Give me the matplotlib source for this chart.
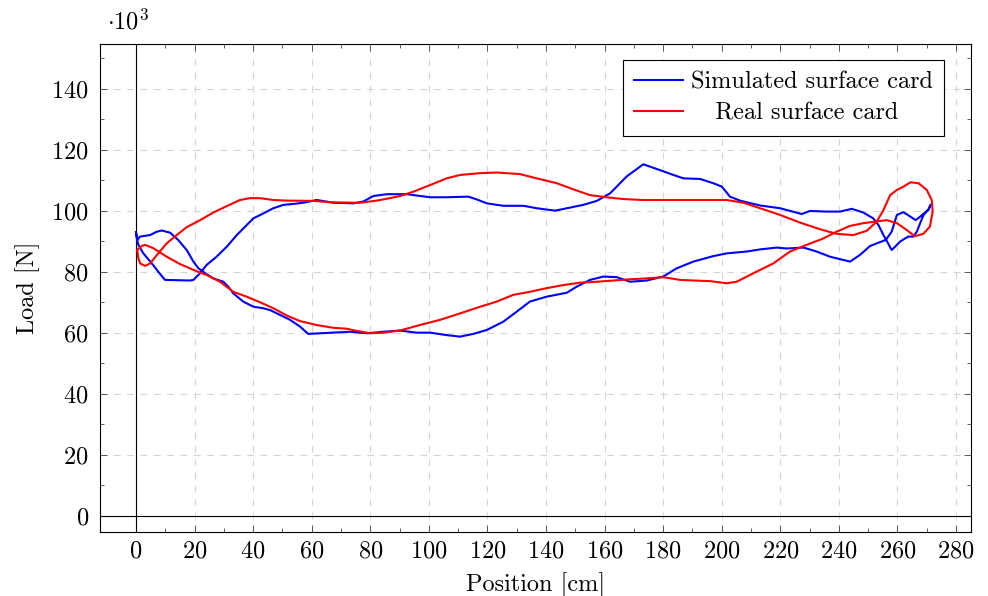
import numpy as np
import matplotlib
matplotlib.use("Agg")
import matplotlib.pyplot as plt
from matplotlib.ticker import FixedLocator

plt.rcParams['font.family'] = ['cmr10', 'DejaVu Serif']
plt.rcParams['mathtext.fontset'] = 'cm'
plt.rcParams['axes.formatter.use_mathtext'] = True

# Simulated surface card (position in cm, load in kN), traced as one closed loop
sim_x = [0.0, 0.4, 1.4, 4.8, 7.1, 8.8, 11.6, 14.4, 17.3, 19.6, 21.3, 23.6, 26.4, 29.8,
         31.5, 33.2, 36.6, 40.1, 43.5, 45.8, 49.2, 52.6, 56.0, 58.8, 62.8, 67.4, 73.1,
         78.8, 84.4, 90.1, 95.8, 100.4, 106.1, 110.6, 115.2, 119.8, 125.4, 130.0, 134.5,
         140.2, 147.1, 150.5, 155.0, 159.6, 164.1, 168.7, 174.4, 180.0, 184.6, 190.3,
         197.1, 201.7, 208.5, 213.1, 218.8, 222.2, 227.9, 232.4, 237.0, 240.4, 243.8,
         247.2, 250.6, 253.5, 256.0, 258.0, 259.8, 262.0, 264.0, 266.2, 267.7, 270.6,
         271.3, 270.6, 268.9, 267.7, 266.6, 265.4, 263.7, 262.6, 260.8, 259.2, 258.0,
         256.9, 255.2, 253.5, 251.7, 248.3, 244.4, 240.4, 235.8, 230.1, 227.3, 219.9,
         213.1, 206.2, 202.8, 200.0, 197.1, 192.6, 186.9, 183.5, 178.9, 173.2, 167.5,
         161.9, 157.3, 152.7, 148.2, 143.1, 136.8, 132.3, 125.4, 119.8, 116.3, 113.5,
         106.1, 100.4, 92.4, 85.6, 81.0, 77.6, 74.2, 67.4, 61.7, 57.1, 53.7, 50.3, 46.9,
         43.5, 40.1, 37.8, 34.4, 31.0, 27.5, 24.1, 21.9, 19.6, 18.4, 9.9, 7.5, 5.4, 2.5,
         0.8, 0.4, 0.0]
sim_y = [93.0, 90.5, 91.6, 92.1, 93.2, 93.6, 92.9, 90.5, 87.2, 83.4, 81.2, 79.6, 77.9, 76.8,
         75.2, 73.0, 70.3, 68.6, 68.1, 67.5, 65.9, 64.3, 62.1, 59.7, 59.9, 60.1, 60.4,
         59.9, 60.4, 60.8, 60.1, 60.1, 59.3, 58.8, 59.7, 61.0, 63.7, 67.0, 70.3,
         71.9, 73.2, 75.2, 77.4, 78.5, 78.3, 76.8, 77.2, 78.5, 81.2, 83.4,
         85.2, 86.1, 86.7, 87.4, 88.0, 87.7, 88.0, 86.7, 85.0, 84.2, 83.4,
         85.6, 88.5, 89.6, 90.5, 93.2, 98.7, 99.6, 98.4, 97.0, 98.1, 100.5,
         102.0, 100.5, 98.7, 95.9, 93.2, 91.6, 91.6, 91.0, 89.9, 88.3, 87.2,
         89.2, 92.1, 95.4, 97.6, 99.5, 100.7, 99.8, 99.8, 100.0, 99.0, 100.9,
         101.8, 103.4, 104.7, 108.0, 109.1, 110.5, 110.7, 111.8, 113.4, 115.3, 111.3,
         105.8, 103.3, 102.0, 101.1, 100.1, 100.9, 101.7, 101.7, 102.5, 103.8, 104.7,
         104.5, 104.5, 105.5, 105.5, 104.9, 103.1, 102.5, 102.7, 103.6, 102.7, 102.3, 102.0, 100.9,
         99.2, 97.6, 95.4, 92.1, 88.3, 85.0, 82.3, 79.6, 77.4, 77.2, 77.4, 80.2, 82.8, 86.1,
         88.9, 90.5, 93.0]

# Real surface card, same units
real_x = [0.4, 0.8, 1.4, 3.1, 4.8, 7.6, 10.5, 13.9, 17.3, 21.9, 26.4, 31.0, 35.5, 38.9,
          42.3, 46.9, 51.5, 60.5, 67.4, 76.5, 82.2, 86.7, 90.1, 94.7, 100.4, 106.1,
          110.6, 117.5, 123.2, 131.1, 136.8, 143.7, 149.3, 155.0, 160.7, 166.4, 173.2,
          185.8, 201.7, 207.4, 213.1, 219.9, 226.7, 233.6, 239.2, 244.9, 249.5, 252.9,
          255.2, 257.5, 259.8, 262.1, 264.4, 267.2, 270.0, 271.7, 272.0, 271.1, 268.8,
          265.9, 263.1, 259.8, 256.3, 252.3, 248.3, 243.8, 239.2, 234.7, 229.0, 223.3,
          217.6, 210.8, 205.1, 201.7, 196.0, 190.3, 185.8, 180.0, 174.4, 168.7, 163.0,
          157.3, 151.6, 145.9, 140.2, 134.5, 128.8, 123.2, 117.5, 110.6, 103.8, 96.9,
          90.1, 84.4, 79.9, 75.3, 71.9, 67.4, 61.7, 56.0, 51.5, 46.9, 42.3, 37.8, 33.2,
          28.7, 24.1, 19.6, 15.0, 10.5, 5.9, 3.1, 1.9, 0.4]
real_y = [87.2, 84.5, 82.8, 82.0, 82.8, 86.1, 89.4, 92.1, 94.7, 97.0, 99.5, 101.6, 103.6, 104.2,
          104.2, 103.6, 103.4, 103.3, 102.8, 102.7, 103.4, 104.2, 104.9, 106.3, 108.5, 110.7,
          111.8, 112.4, 112.6, 112.1, 110.7, 109.1, 107.1, 105.2, 104.5, 103.9, 103.6,
          103.6, 103.6, 102.7, 100.9, 98.7, 96.2, 94.0, 92.5, 92.1, 93.5, 96.5,
          100.3, 105.2, 106.9, 108.0, 109.4, 109.1, 106.9, 103.6, 99.8, 94.9, 92.5,
          91.7, 93.8, 96.0, 97.0, 96.5, 96.0, 95.1, 93.2, 91.0, 88.9, 86.7,
          82.8, 79.6, 76.8, 76.3, 77.0, 77.2, 77.4, 78.3, 77.9, 77.6, 77.2,
          76.8, 76.5, 75.7, 74.7, 73.5, 72.5, 70.3, 68.6, 66.4, 64.3, 62.6,
          60.8, 60.1, 59.9, 60.7, 61.4, 61.7, 62.6, 63.9, 65.7, 68.1, 70.1, 71.9, 73.5,
          76.8, 79.0, 80.7, 82.6, 85.0, 87.8, 88.9, 88.5, 87.2]

x_major = list(range(0, 281, 20))
x_minor = list(range(10, 271, 20))
y_major = list(range(0, 141, 20))
y_minor = list(range(10, 151, 20))

FS = 17.5

fig = plt.figure(figsize=(9.88, 5.96), dpi=100)
ax = fig.add_axes([0.1012, 0.1074, 0.8816, 0.8188])

ax.plot(sim_x, sim_y, color='#0000ff', lw=1.5, label='Simulated surface card', zorder=3,
        solid_joinstyle='round')
ax.plot(real_x, real_y, color='#ff0000', lw=1.5, label='   Real surface card', zorder=3,
        solid_joinstyle='round')

ax.axvline(0, color='black', lw=0.8, zorder=2)
ax.axhline(0, color='black', lw=0.8, zorder=2)

ax.set_xlim(-12.3, 285.1)
ax.set_ylim(-5.25, 154.75)
ax.xaxis.set_major_locator(FixedLocator(x_major))
ax.xaxis.set_minor_locator(FixedLocator(x_minor))
ax.yaxis.set_major_locator(FixedLocator(y_major))
ax.yaxis.set_minor_locator(FixedLocator(y_minor))

ax.grid(True, which='major', color='#d4d4d4', lw=0.8, ls=(0, (6, 6)), zorder=0)
ax.tick_params(which='both', direction='in', top=True, right=True, color='#444444',
               labelsize=FS, width=0.6)
ax.tick_params(which='major', length=5)
ax.tick_params(which='minor', length=3.2)
ax.tick_params(axis='x', which='major', pad=6)
ax.tick_params(axis='y', which='major', pad=8)
for s in ax.spines.values():
    s.set_linewidth(0.8)

ax.set_xlabel('Position [cm]', fontsize=FS, labelpad=7)
ax.set_ylabel('Load [N]', fontsize=FS, labelpad=8)
ax.text(0.008, 1.02, r'$\cdot 10^3$', transform=ax.transAxes, fontsize=FS, ha='left', va='bottom')

leg = ax.legend(loc='upper right', bbox_to_anchor=(0.969, 0.967), fontsize=FS,
                fancybox=False, edgecolor='black', framealpha=1, handlelength=2.0,
                handletextpad=0.35, borderpad=0.45, labelspacing=0.4, borderaxespad=0)
leg.get_frame().set_linewidth(0.8)

fig.savefig('out.png', dpi=100)
